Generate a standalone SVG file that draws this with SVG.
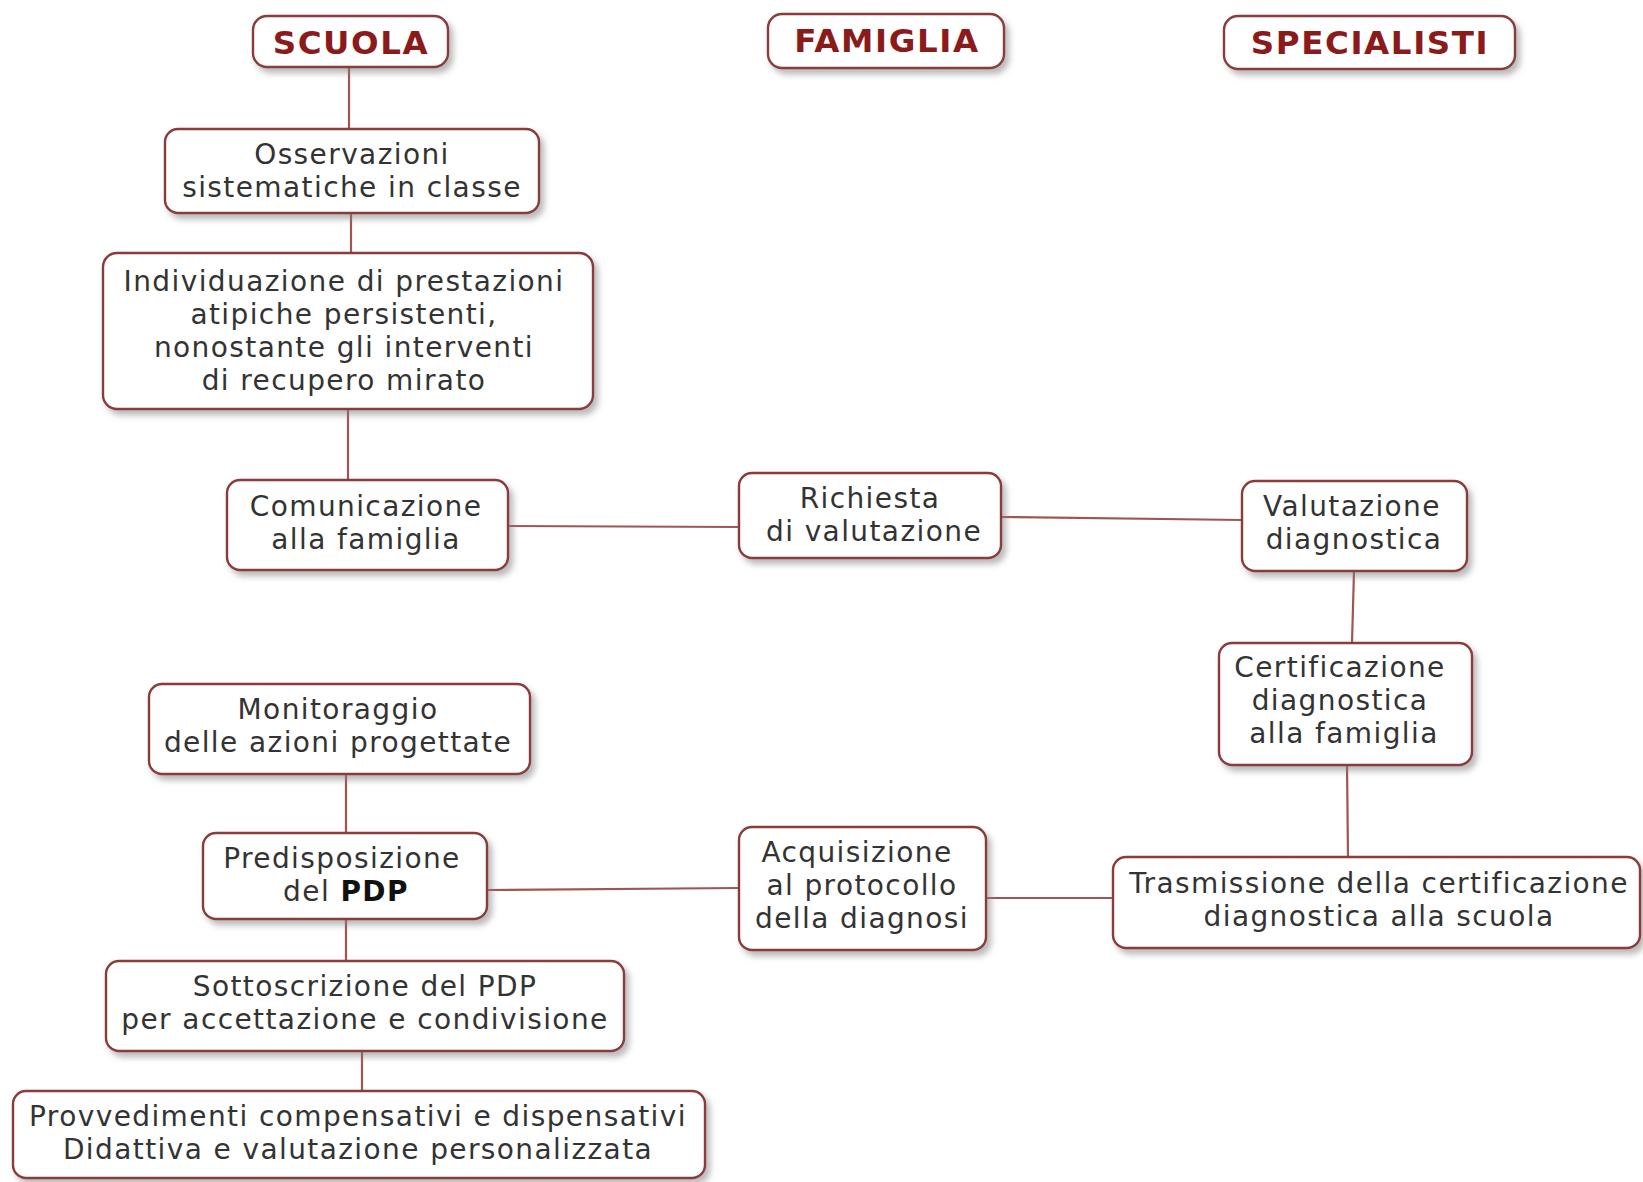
<svg xmlns="http://www.w3.org/2000/svg" width="1643" height="1182" viewBox="0 0 1643 1182">
<defs>
<filter id="sh" x="-10%" y="-10%" width="130%" height="140%">
<feDropShadow dx="4" dy="5" stdDeviation="3" flood-color="#808080" flood-opacity="0.55"/>
</filter>
<style>
.box{fill:#fff;stroke:#8c3b3b;stroke-width:2.4;filter:url(#sh)}
.hdr{font-family:"DejaVu Sans",Verdana,sans-serif;font-weight:bold;font-size:32.5px;fill:#8b1a1a;text-anchor:middle;letter-spacing:1.6px}
.t{font-family:"DejaVu Sans",Verdana,sans-serif;font-size:28px;fill:#333;text-anchor:middle;letter-spacing:1.4px}
.c{stroke:#a05555;stroke-width:2.2;fill:none}
</style>
</defs>
<rect width="1643" height="1182" fill="#fff"/>
<g id="connectors">
<line class="c" x1="349" y1="66" x2="349" y2="129"/>
<line class="c" x1="351" y1="213" x2="351" y2="253"/>
<line class="c" x1="348" y1="409" x2="348" y2="480"/>
<line class="c" x1="508" y1="526" x2="739" y2="527"/>
<line class="c" x1="1001" y1="517" x2="1242" y2="520"/>
<line class="c" x1="1354" y1="571" x2="1352" y2="643"/>
<line class="c" x1="1347" y1="765" x2="1348" y2="857"/>
<line class="c" x1="986" y1="898" x2="1113" y2="898"/>
<line class="c" x1="487" y1="890" x2="739" y2="888"/>
<line class="c" x1="346" y1="774" x2="346" y2="833"/>
<line class="c" x1="346" y1="919" x2="346" y2="961"/>
<line class="c" x1="362" y1="1051" x2="362" y2="1091"/>
</g>
<g id="scuola">
<rect class="box" x="253" y="16" width="195" height="51" rx="14"/>
<text class="hdr" x="351" y="54">SCUOLA</text>
</g>
<g id="famiglia">
<rect class="box" x="768" y="14" width="236" height="54" rx="14"/>
<text class="hdr" x="887" y="52">FAMIGLIA</text>
</g>
<g id="specialisti">
<rect class="box" x="1224" y="16" width="291" height="53" rx="14"/>
<text class="hdr" x="1370" y="54">SPECIALISTI</text>
</g>
<g id="osservazioni">
<rect class="box" x="165" y="129" width="374" height="84" rx="13"/>
<text class="t" x="352" y="164">Osservazioni</text>
<text class="t" x="352" y="197">sistematiche in classe</text>
</g>
<g id="individuazione">
<rect class="box" x="103" y="253" width="490" height="156" rx="14"/>
<text class="t" x="344" y="291">Individuazione di prestazioni</text>
<text class="t" x="344" y="324">atipiche persistenti,</text>
<text class="t" x="344" y="357">nonostante gli interventi</text>
<text class="t" x="344" y="390">di recupero mirato</text>
</g>
<g id="comunicazione">
<rect class="box" x="227" y="480" width="281" height="90" rx="13"/>
<text class="t" x="366" y="516">Comunicazione</text>
<text class="t" x="366" y="549">alla famiglia</text>
</g>
<g id="richiesta">
<rect class="box" x="739" y="473" width="262" height="85" rx="13"/>
<text class="t" x="870" y="508">Richiesta</text>
<text class="t" x="874" y="541">di valutazione</text>
</g>
<g id="valutazione">
<rect class="box" x="1242" y="481" width="225" height="90" rx="13"/>
<text class="t" x="1352" y="516">Valutazione</text>
<text class="t" x="1354" y="549">diagnostica</text>
</g>
<g id="certificazione">
<rect class="box" x="1219" y="643" width="253" height="122" rx="13"/>
<text class="t" x="1340" y="677">Certificazione</text>
<text class="t" x="1340" y="710">diagnostica</text>
<text class="t" x="1344" y="743">alla famiglia</text>
</g>
<g id="trasmissione">
<rect class="box" x="1113" y="857" width="527" height="91" rx="13"/>
<text class="t" x="1379" y="893">Trasmissione della certificazione</text>
<text class="t" x="1379" y="926">diagnostica alla scuola</text>
</g>
<g id="acquisizione">
<rect class="box" x="739" y="827" width="247" height="123" rx="13"/>
<text class="t" x="857" y="862">Acquisizione</text>
<text class="t" x="862" y="895">al protocollo</text>
<text class="t" x="862" y="928">della diagnosi</text>
</g>
<g id="monitoraggio">
<rect class="box" x="149" y="684" width="381" height="90" rx="13"/>
<text class="t" x="338" y="719">Monitoraggio</text>
<text class="t" x="338" y="752">delle azioni progettate</text>
</g>
<g id="predisposizione">
<rect class="box" x="203" y="833" width="284" height="86" rx="13"/>
<text class="t" x="342" y="868">Predisposizione</text>
<text class="t" x="346" y="901">del <tspan font-weight="bold" fill="#111">PDP</tspan></text>
</g>
<g id="sottoscrizione">
<rect class="box" x="106" y="961" width="518" height="90" rx="13"/>
<text class="t" x="365" y="996">Sottoscrizione del PDP</text>
<text class="t" x="365" y="1029">per accettazione e condivisione</text>
</g>
<g id="provvedimenti">
<rect class="box" x="13" y="1091" width="692" height="87" rx="13"/>
<text class="t" x="358" y="1126">Provvedimenti compensativi e dispensativi</text>
<text class="t" x="358" y="1159">Didattiva e valutazione personalizzata</text>
</g>
</svg>
